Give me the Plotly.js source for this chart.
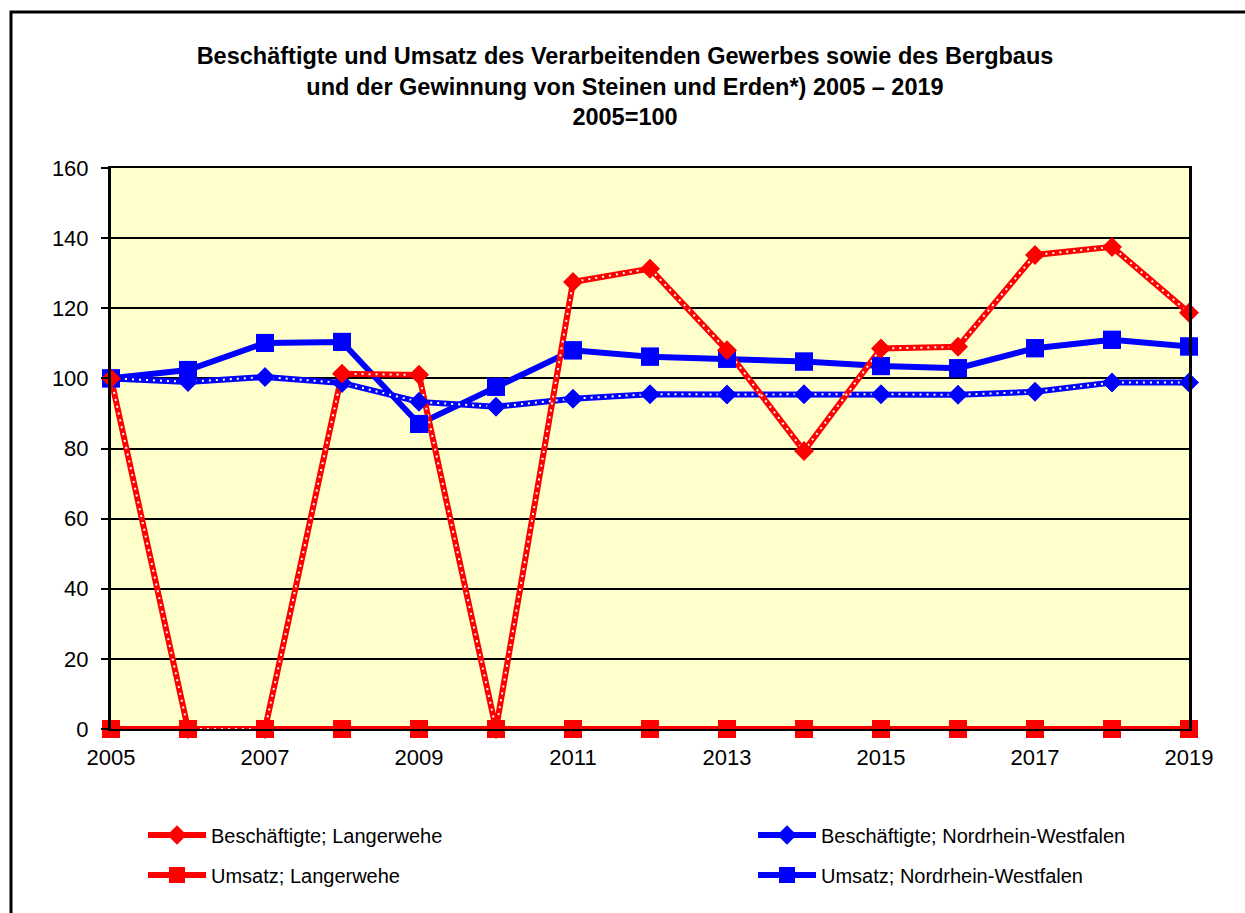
<!DOCTYPE html>
<html><head><meta charset="utf-8">
<script src="https://cdn.plot.ly/plotly-3.0.1.min.js"></script>
<style>body{margin:0;background:#fff}#chart{width:1245px;height:913px}</style>
</head><body><div id="chart"></div>
<script>
const years = [2005,2006,2007,2008,2009,2010,2011,2012,2013,2014,2015,2016,2017,2018,2019];
const beschLangerwehe = [100,0,0,101.3,101,0,127.5,131.3,108,79.3,108.5,109,135.2,137.5,118.7];
const umsatzLangerwehe = [0,0,0,0,0,0,0,0,0,0,0,0,0,0,0];
const beschNRW = [100,99,100.4,98.7,93.3,91.9,94.2,95.5,95.4,95.5,95.5,95.3,96.2,98.8,98.8];
const umsatzNRW = [100,102.4,110.1,110.4,87,97.6,108,106.2,105.6,104.8,103.5,102.9,108.6,111,109.1];
const names = ["Beschäftigte; Langerwehe","Beschäftigte; Nordrhein-Westfalen","Umsatz; Langerwehe","Umsatz; Nordrhein-Westfalen"];
const yTicks = [0,20,40,60,80,100,120,140,160];
const xTicks = [2005,2007,2009,2011,2013,2015,2017,2019];

const RED = "#FF0000", BLUE = "#0000FF";
const LW = 6, SQ = 18, DI = 15;
function lineTrace(y, name, color, sym, size, leg){
  return {x: years, y: y, name: name, type: "scatter", mode: "lines+markers",
    line: {color: color, width: LW}, marker: {symbol: sym, size: size, color: color},
    legend: leg, cliponaxis: false, hoverinfo: "skip"};
}
function dotTrace(y){
  return {x: years, y: y, type: "scatter", mode: "lines", showlegend: false,
    line: {color: "#FFFFFF", width: 2, dash: "2px,5px"}, cliponaxis: false, hoverinfo: "skip"};
}
function markTrace(y, color, sym, size){
  return {x: years, y: y, type: "scatter", mode: "markers", showlegend: false,
    marker: {symbol: sym, size: size, color: color}, cliponaxis: false, hoverinfo: "skip"};
}
const data = [
  lineTrace(beschNRW, names[1], BLUE, "diamond", DI, "legend2"),
  lineTrace(umsatzNRW, names[3], BLUE, "square", SQ, "legend4"),
  lineTrace(beschLangerwehe, names[0], RED, "diamond", DI, "legend"),
  lineTrace(umsatzLangerwehe, names[2], RED, "square", SQ, "legend3"),
  dotTrace(beschNRW),
  dotTrace(beschLangerwehe),
  markTrace(beschNRW, BLUE, "diamond", DI),
  markTrace(umsatzNRW, BLUE, "square", SQ),
  markTrace(beschLangerwehe, RED, "diamond", DI),
  markTrace(umsatzLangerwehe, RED, "square", SQ)
];
const FONT = "Arial, 'Liberation Sans', sans-serif";
function leg(xpx, ypx){
  return {orientation: "h", xanchor: "left", yanchor: "middle",
    x: (xpx-111)/1078, y: (729-ypx)/561, itemwidth: 58,
    font: {family: FONT, size: 20, color: "#000"}, bgcolor: "rgba(0,0,0,0)"};
}
const layout = {
  width: 1245, height: 913,
  margin: {l: 111, r: 56, t: 168, b: 184},
  paper_bgcolor: "#FFFFFF", plot_bgcolor: "#FFFFCC",
  font: {family: FONT, color: "#000"},
  title: {text: "<b>Beschäftigte und Umsatz des Verarbeitenden Gewerbes sowie des Bergbaus<br>und der Gewinnung von Steinen und Erden*) 2005 – 2019<br>2005=100</b>",
    font: {family: FONT, size: 23.5, color: "#000"}, x: 0.502, xref: "container", xanchor: "center",
    y: 1 - 64/913, yref: "container", yanchor: "middle"},
  xaxis: {range: [2005, 2019], tickvals: xTicks, ticktext: xTicks.map(String), showgrid: false,
    zeroline: false, showline: true, linecolor: "#000", linewidth: 2, mirror: true, ticks: "",
    ticklabelstandoff: 8, tickfont: {family: FONT, size: 22, color: "#000"}, fixedrange: true},
  yaxis: {range: [0, 160], tickvals: yTicks, ticktext: yTicks.map(String), showgrid: true,
    gridcolor: "#000", gridwidth: 2, zeroline: false, showline: true, linecolor: "#000", linewidth: 3,
    mirror: true, ticks: "outside", ticklen: 7, tickwidth: 2, tickcolor: "#000",
    ticklabelstandoff: 8, tickfont: {family: FONT, size: 22, color: "#000"}, fixedrange: true},
  legend: leg(143, 835),
  legend2: leg(753, 835),
  legend3: leg(143, 875),
  legend4: leg(753, 875),
  shapes: [{type: "rect", xref: "paper", yref: "paper",
    x0: (11-111)/1078, x1: (1260-111)/1078, y0: (729-930)/561, y1: (729-12)/561,
    line: {color: "#000", width: 3}, fillcolor: "rgba(0,0,0,0)", layer: "above"}],
  showlegend: true
};
Plotly.newPlot("chart", data, layout, {displayModeBar: false, staticPlot: true});
</script></body></html>
